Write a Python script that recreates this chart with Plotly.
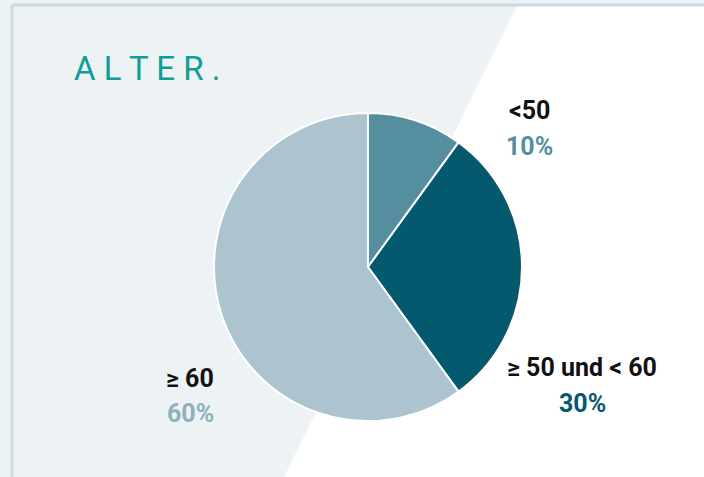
import plotly.graph_objects as go

categories = ["<50", "≥ 50 und < 60", "≥ 60"]
values = [10, 30, 60]
slice_colors = ["#558e9f", "#05596e", "#abc4cf"]
pct_colors = ["#558e9f", "#05596e", "#8fb0bd"]
title_text = "ALTER."

W, H = 704, 477
cx, cy, r = 368, 267, 154

fig = go.Figure()
fig.add_trace(go.Pie(
    labels=categories, values=values, sort=False, direction="clockwise", rotation=0,
    marker=dict(colors=slice_colors, line=dict(color="white", width=2)),
    textinfo="none", hoverinfo="label+percent", showlegend=False,
    domain=dict(x=[(cx - r) / W, (cx + r) / W], y=[(H - cy - r) / H, (H - cy + r) / H]),
))

# invisible pixel-space axes for decorations
fig.update_xaxes(range=[0, W], visible=False, fixedrange=True)
fig.update_yaxes(range=[H, 0], visible=False, fixedrange=True)

shapes = [
    dict(type="rect", x0=13, y0=6, x1=W + 2, y1=H + 2, fillcolor="white", line_width=0, layer="below"),
    dict(type="path", path="M 13 6 L 517 6 L 284 477 L 13 477 Z", fillcolor="#edf2f4", line_width=0, layer="below"),
    dict(type="line", x0=12, y0=5, x1=W + 2, y1=5, line=dict(color="#ccdae2", width=3), layer="below"),
    dict(type="line", x0=12, y0=5, x1=12, y1=H + 2, line=dict(color="#ccdae2", width=3), layer="below"),
]

label_pos = [(529, 110, 146), (582, 367, 403), (190, 378, 413)]
ann = []
for cat, v, col, (x, y1, y2) in zip(categories, values, pct_colors, label_pos):
    ann.append(dict(x=x, y=y1, xref="x", yref="y", text=cat, showarrow=False,
                    font=dict(family="Roboto", size=25, color="#111111", weight=700)))
    ann.append(dict(x=x, y=y2, xref="x", yref="y", text=f"{v}%", showarrow=False,
                    font=dict(family="Roboto", size=25, color=col, weight=700)))

spaced = " ".join(title_text)
ann.append(dict(x=72, y=68, xref="x", yref="y", text=spaced, showarrow=False, xanchor="left",
                font=dict(family="Roboto", size=33, color="#0f9e96", weight=400)))

fig.update_layout(
    width=W, height=H, margin=dict(l=0, r=0, t=0, b=0),
    paper_bgcolor="#edf2f4", plot_bgcolor="rgba(0,0,0,0)",
    shapes=shapes, annotations=ann,
)

fig.write_html("out.html", config=dict(displayModeBar=False),
               post_script="document.body.style.margin='0';document.body.style.overflow='hidden';")
